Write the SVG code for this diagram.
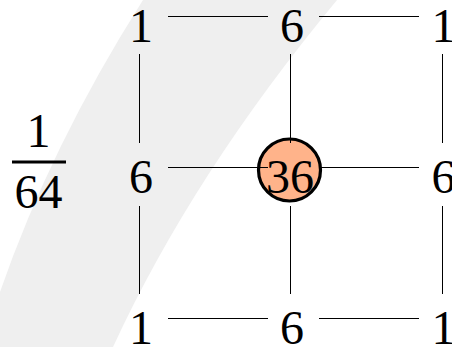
<svg xmlns="http://www.w3.org/2000/svg" width="452" height="347" viewBox="0 0 452 347">
<style>
.t{font-family:"Liberation Serif","Times New Roman",serif;font-size:48px;fill:#000;text-anchor:middle}
.e{stroke:#000;stroke-width:1;fill:none}
</style>
<rect width="452" height="347" fill="#fff"/>
<path d="M143,0 L337,0 Q193,173.5 113,347 L0,347 L0,292 Q50.5,146 143,0 Z" fill="#efefef"/>
<g id="frac">
<text class="t" x="38.5" y="147">1</text>
<rect x="12" y="160.5" width="54" height="3" fill="#000"/>
<text class="t" x="38.5" y="208">64</text>
</g>
<g id="center-circle">
<circle cx="289.5" cy="170" r="31" fill="#ffb38a" stroke="#000" stroke-width="3.2"/>
</g>
<g id="connectors">
<line class="e" x1="168" y1="16.5" x2="268" y2="16.5"/>
<line class="e" x1="319" y1="16.5" x2="419" y2="16.5"/>
<line class="e" x1="168" y1="167.5" x2="268" y2="167.5"/>
<line class="e" x1="319" y1="167.5" x2="419" y2="167.5"/>
<line class="e" x1="168" y1="318.5" x2="268" y2="318.5"/>
<line class="e" x1="319" y1="318.5" x2="419" y2="318.5"/>
<line class="e" x1="139.5" y1="54" x2="139.5" y2="143"/>
<line class="e" x1="139.5" y1="206" x2="139.5" y2="294"/>
<line class="e" x1="290.5" y1="54" x2="290.5" y2="143"/>
<line class="e" x1="290.5" y1="206" x2="290.5" y2="294"/>
<line class="e" x1="442.5" y1="54" x2="442.5" y2="143"/>
<line class="e" x1="442.5" y1="206" x2="442.5" y2="294"/>
</g>
<g id="n00"><text class="t" x="141" y="42">1</text></g>
<g id="n01"><text class="t" x="292" y="42">6</text></g>
<g id="n02"><text class="t" x="443.5" y="42">1</text></g>
<g id="n10"><text class="t" x="141" y="193">6</text></g>
<g id="n11"><text class="t" x="290" y="193">36</text></g>
<g id="n12"><text class="t" x="443.5" y="193">6</text></g>
<g id="n20"><text class="t" x="141" y="344">1</text></g>
<g id="n21"><text class="t" x="292" y="344">6</text></g>
<g id="n22"><text class="t" x="443.5" y="344">1</text></g>
</svg>
